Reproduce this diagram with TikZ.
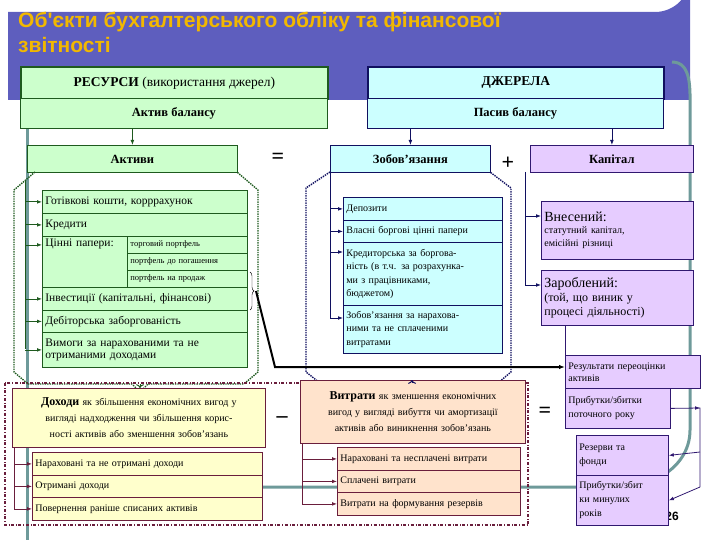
\documentclass[tikz,border=0pt]{standalone}
\usepackage{fontspec}
\setmainfont{Liberation Serif}
\newfontfamily\titlefont{Liberation Sans}
\usetikzlibrary{arrows.meta,decorations.pathreplacing}
\definecolor{gfill}{HTML}{CCFFCC}
\definecolor{gdark}{HTML}{1E5A1E}
\definecolor{cfill}{HTML}{CCFFFF}
\definecolor{cdark}{HTML}{101060}
\definecolor{lfill}{HTML}{E6CCFF}
\definecolor{ldark}{HTML}{301870}
\definecolor{yfill}{HTML}{FFFFCC}
\definecolor{pfill}{HTML}{FFE3CC}
\definecolor{mdark}{HTML}{6A1E3C}
\definecolor{band}{HTML}{5E5EBE}
\definecolor{teal}{HTML}{6E9A9A}
\definecolor{ttl}{HTML}{F2B800}
\tikzset{
 bx/.style={draw,anchor=north west,inner sep=2pt,font=\fontsize{11.5}{12.5}\selectfont,align=left},
 gb/.style={bx,fill=gfill,draw=gdark,line width=0.8pt},
 cb/.style={bx,fill=cfill,draw=cdark,line width=0.8pt},
 lb/.style={bx,fill=lfill,draw=ldark,line width=0.8pt},
 yb/.style={bx,fill=yfill,draw=mdark,line width=0.8pt},
 pb/.style={bx,fill=pfill,draw=mdark,line width=0.8pt},
 ga/.style={-{Latex[length=5pt]},draw=gdark,line width=0.8pt},
 ca/.style={-{Latex[length=5pt]},draw=cdark,line width=0.8pt},
 la/.style={-{Latex[length=5pt]},draw=ldark,line width=0.8pt},
 ma/.style={-{Latex[length=5pt]},draw=mdark,line width=0.8pt},
 sym/.style={font=\fontsize{22}{22}\selectfont\bfseries}
}
\begin{document}
\begin{tikzpicture}[x=1pt,y=-1pt]
\useasboundingbox (0,0) rectangle (720,540);
% title band and frame
\fill[band] (8,12) -- (655,12) arc[start angle=90,end angle=0,radius=35] -- (690,100) -- (8,100) -- cycle;
\draw[teal,line width=3pt] (27,100) -- (27,540);
\draw[teal,line width=3pt] (672,62) to[out=0,in=90] (690,110) -- (690,430) to[out=-90,in=0] (620,487) -- (190,487);
\node[anchor=north west,text=ttl,font=\titlefont\bfseries\fontsize{21}{25}\selectfont,align=left,inner sep=0] (title) at (18,12) {Об'єкти бухгалтерського обліку та фінансової\\звітності};
% top boxes
\node[gb,line width=1.6pt,minimum width=307,minimum height=32,align=center,font=\fontsize{13.5}{14}\selectfont] (res) at (20,66) {\textbf{РЕСУРСИ} (використання джерел)};
\node[gb,minimum width=307,minimum height=30,align=center,font=\fontsize{12.5}{13}\selectfont] (akb) at (20,98) {\textbf{Актив балансу}};
\node[cb,line width=1.6pt,minimum width=296,minimum height=32,align=center,font=\fontsize{13.5}{14}\selectfont] (dz) at (367,66) {\textbf{ДЖЕРЕЛА}};
\node[cb,minimum width=296,minimum height=30,align=center,font=\fontsize{12.5}{13}\selectfont] (psb) at (367,98) {\textbf{Пасив балансу}};
\node[gb,minimum width=210,minimum height=27,align=center,font=\fontsize{12.5}{13}\selectfont] (akt) at (27,145) {\textbf{Активи}};
\node[cb,minimum width=160,minimum height=27,align=center,font=\fontsize{12.5}{13}\selectfont] (zob) at (330,145) {\textbf{Зобов’язання}};
\node[lb,minimum width=163,minimum height=27,align=center,font=\fontsize{12.5}{13}\selectfont] (kap) at (530,145) {\textbf{Капітал}};
\node[sym] (eq1) at (278,158) {=};
\node[sym] (pl) at (508,163) {+};
\draw[ga] (akb.south -| akt) -- (akt.north);
\draw[ca] (psb.south -| zob) -- (zob.north);
\draw[ca] (psb.south -| kap) -- (kap.north);
% left list
\node[gb,minimum width=205,minimum height=23,text width=199] (g1) at (42,190) {Готівкові кошти, корррахунок};
\node[gb,minimum width=205,minimum height=23,text width=199] (g2) at (42,213) {Кредити};
\node[gb,minimum width=205,minimum height=51,text width=199] (g3) at (42,236) {Цінні папери:\\[27pt]\mbox{}};
\node[gb,minimum width=120,minimum height=17,text width=114,font=\fontsize{8.5}{9}\selectfont] (s1) at (127,236) {торговий портфель};
\node[gb,minimum width=120,minimum height=17,text width=114,font=\fontsize{8.5}{9}\selectfont] (s2) at (127,253) {портфель до погашення};
\node[gb,minimum width=120,minimum height=17,text width=114,font=\fontsize{8.5}{9}\selectfont] (s3) at (127,270) {портфель на продаж};
\node[gb,minimum width=205,minimum height=23,text width=199] (g4) at (42,287) {Інвестиції (капітальні, фінансові)};
\node[gb,minimum width=205,minimum height=22,text width=199] (g5) at (42,310) {Дебіторська заборгованість};
\node[gb,minimum width=205,minimum height=35,text width=199] (g6) at (42,332) {Вимоги за нарахованими та не\\отриманими доходами};
\coordinate (lv) at (25,180);
\draw[gdark,line width=0.8pt] (lv) -- (25,349);
\foreach \n in {g1,g2,g4,g5,g6}{\draw[ga] (\n.west -| lv) -- (\n.west);}
\draw[ga] (s1.west -| lv) -- (s1.west -| g3.west);
\draw[decorate,decoration={brace,amplitude=4pt}] (250,272) -- (250,310);
\coordinate (brt) at (256,291);
\draw[gdark,densely dotted,line width=1.4pt] (35,172) -- (14,190) -- (14,372) -- (28,384) -- (132,384) -- (140,392) -- (148,384) -- (244,384) -- (258,372) -- (258,190) -- (237,172);
% right list (liabilities)
\node[cb,minimum width=159,minimum height=23,text width=153,font=\fontsize{10}{11}\selectfont] (c1) at (343,197) {Депозити};
\node[cb,minimum width=159,minimum height=22,text width=153,font=\fontsize{10}{11}\selectfont] (c2) at (343,220) {Власні боргові цінні папери};
\node[cb,minimum width=159,minimum height=63,text width=153,font=\fontsize{10}{13.5}\selectfont] (c3) at (343,242) {Кредиторська за боргова-\\ність (в т.ч. за розрахунка-\\ми з працівниками,\\бюджетом)};
\node[cb,minimum width=159,minimum height=48,text width=153,font=\fontsize{10}{13.5}\selectfont] (c4) at (343,305) {Зобов’язання за нарахова-\\ними та не сплаченими\\витратами};
\coordinate (rv) at (330,172);
\draw[cdark,line width=0.8pt] (zob.south west) -- (330,318);
\foreach \n in {c1,c2}{\draw[ca] (\n.west -| rv) -- (\n.west);}
\draw[ca] (330,252) -- (343,252);
\draw[ca] (330,318) -- (343,318);
\draw[cdark,densely dotted,line width=1.4pt] (330,172) -- (306,188) -- (306,372) -- (320,383) -- (402,383) -- (412,392) -- (422,383) -- (498,383) -- (511,372) -- (511,188) -- (490,172);
% capital
\node[lb,minimum width=152,minimum height=58,text width=146] (k1) at (541,201) {\fontsize{14}{16}\selectfont Внесений:\\\fontsize{10}{12}\selectfont статутний капітал,\\емісійні різниці};
\node[lb,minimum width=152,minimum height=55,text width=146,font=\fontsize{12}{14}\selectfont] (k2) at (541,270) {\fontsize{14}{16}\selectfont Зароблений:\\\fontsize{12}{14}\selectfont(той, що виник у\\процесі діяльності)};
\coordinate (kv) at (525,172);
\draw[cdark,line width=0.8pt] (kv) -- (525,285);
\draw[ca] (525,216) -- (k1.west|-0,216);
\draw[ca] (525,285) -- (k2.west|-0,285);
\node[lb,minimum width=135,minimum height=33,text width=129,font=\fontsize{10}{12}\selectfont] (r1) at (565,355) {Результати переоцінки\\активів};
\node[lb,minimum width=105,minimum height=40,text width=99,font=\fontsize{10}{14}\selectfont] (r2) at (565,388) {Прибутки/збитки\\поточного року};
\node[anchor=center,font=\titlefont\bfseries\fontsize{12}{12}\selectfont] (pg) at (672,516) {26};
\node[lb,minimum width=92,minimum height=40,text width=86,font=\fontsize{10}{14}\selectfont] (r3) at (576,435) {Резерви та\\фонди};
\node[lb,minimum width=92,minimum height=50,text width=86,font=\fontsize{10}{14}\selectfont] (r4) at (576,475) {Прибутки/збит\\ки минулих\\років};
\draw[ldark,line width=0.8pt] (k2.south -| r1.west) -- (r2.south west);
\draw[ldark,line width=0.8pt] (r2.east) -- (700,408) -- (700,487);
\draw[la] (695,408) -- (700,408);
\draw[la] (700,452) -- (r3.east);
\draw[la] (700,487) -- (r4.east);
\draw[-{Latex[length=6pt]},line width=2pt] (brt) -- (275,367) -- (r1.west|-0,367);
% bottom
\draw[mdark,dash dot,line width=1.4pt] (5,383) rectangle (528,525);
\node[yb,minimum width=253,minimum height=59,text width=249,inner sep=1pt,align=center,font=\fontsize{10}{16}\selectfont] (doh) at (12,388) {\fontsize{12}{16}\selectfont\textbf{Доходи} \fontsize{10}{16}\selectfont як збільшення економічних вигод у\\вигляді надходження чи збільшення корис-\\ності активів або зменшення зобов’язань};
\node[pb,minimum width=225,minimum height=63,text width=221,inner sep=1pt,align=center,font=\fontsize{10}{16}\selectfont] (vyt) at (300,380) {\fontsize{12}{16}\selectfont\textbf{Витрати} \fontsize{10}{16}\selectfont як зменшення економічних\\вигод у вигляді вибуття чи амортизації\\активів або виникнення зобов’язань};
\node[sym] (mn) at (282,420) {--};
\node[sym] (eq2) at (545,412) {=};
\node[yb,minimum width=230,minimum height=23,text width=224,font=\fontsize{10}{11}\selectfont] (y1) at (32,452) {Нараховані та не отримані доходи};
\node[yb,minimum width=230,minimum height=22,text width=224,font=\fontsize{10}{11}\selectfont] (y2) at (32,475) {Отримані доходи};
\node[yb,minimum width=230,minimum height=23,text width=224,font=\fontsize{10}{11}\selectfont] (y3) at (32,497) {Повернення раніше списаних активів};
\coordinate (yv) at (14,447);
\draw[mdark,line width=0.8pt] (yv) -- (14,509);
\foreach \n in {y1,y2,y3}{\draw[ma] (\n.west -| yv) -- (\n.west);}
\node[pb,minimum width=183,minimum height=23,text width=177,font=\fontsize{10}{11}\selectfont] (p1) at (337,447) {Нараховані та несплачені витрати};
\node[pb,minimum width=183,minimum height=22,text width=177,font=\fontsize{10}{11}\selectfont] (p2) at (337,470) {Сплачені витрати};
\node[pb,minimum width=183,minimum height=23,text width=177,font=\fontsize{10}{11}\selectfont] (p3) at (337,492) {Витрати на формування резервів};
\coordinate (pv) at (302,443);
\draw[mdark,line width=0.8pt] (pv) -- (302,504);
\foreach \n in {p1,p2,p3}{\draw[ma] (\n.west -| pv) -- (\n.west);}
\draw[gdark,line width=1pt,->] (140,384) -- (doh.north-|140,0);
\draw[cdark,line width=1pt,->] (412,383) -- (vyt.north-|412,0);
\end{tikzpicture}
\end{document}
